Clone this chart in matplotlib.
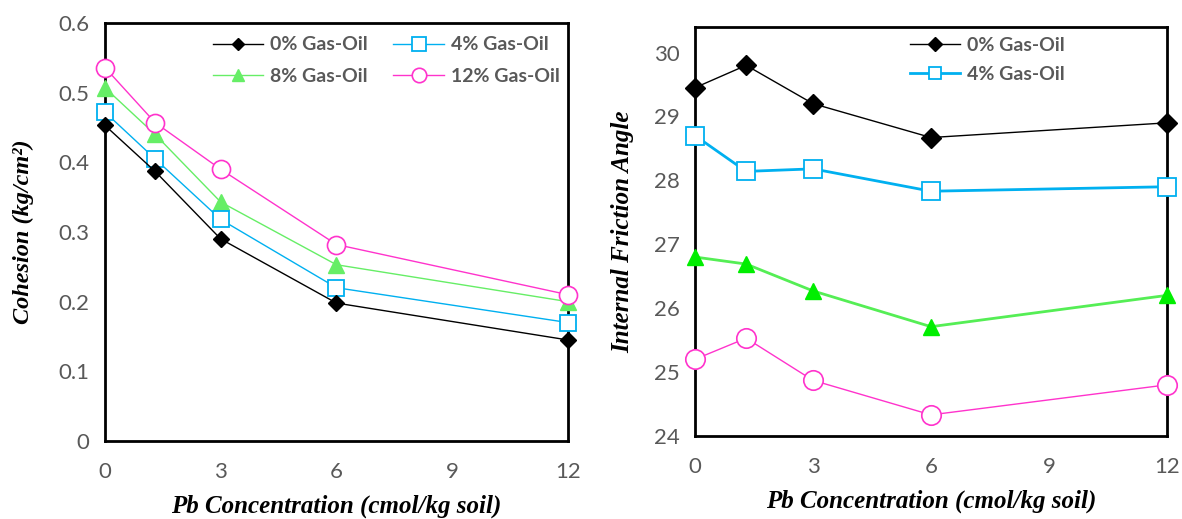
import matplotlib
matplotlib.use("Agg")
import matplotlib.pyplot as plt

# Pb concentration (cmol/kg soil)
pb = [0, 1.3, 3, 6, 12]

# cohesion (kg/cm2)
coh_0 = [0.453, 0.387, 0.290, 0.198, 0.145]
coh_4 = [0.472, 0.405, 0.318, 0.220, 0.170]
coh_8 = [0.507, 0.440, 0.343, 0.253, 0.200]
coh_12 = [0.536, 0.457, 0.390, 0.282, 0.210]

# internal friction angle
phi_0 = [29.45, 29.80, 29.20, 28.67, 28.90]
phi_4 = [28.70, 28.14, 28.18, 27.83, 27.90]
phi_8 = [26.80, 26.69, 26.27, 25.71, 26.20]
phi_12 = [25.20, 25.53, 24.87, 24.33, 24.80]

labels = ["0% Gas-Oil", "4% Gas-Oil", "8% Gas-Oil", "12% Gas-Oil"]
x_ticks = [0, 3, 6, 9, 12]

tick_font = "Lato"
label_font = "Liberation Serif"
gray = "#595959"
blue = "#00b0f0"
pink = "#ff33cc"

fig = plt.figure(figsize=(11.82, 5.19), dpi=100)
ax1 = fig.add_axes([0.0888, 0.1503, 0.3917, 0.8054])
ax2 = fig.add_axes([0.588, 0.160, 0.3993, 0.788])


def style_axis(ax):
    for s in ax.spines.values():
        s.set_linewidth(2)
        s.set_color("black")
    ax.tick_params(length=0, labelsize=16, labelcolor=gray, pad=11)
    ax.tick_params(axis="x", pad=15)
    for t in ax.get_xticklabels() + ax.get_yticklabels():
        t.set_fontfamily(tick_font)
    ax.set_xlim(0, 12)
    ax.set_xticks(x_ticks)
    ax.set_xticklabels([str(v) for v in x_ticks], fontfamily=tick_font)


leg_kw = dict(frameon=False, loc="upper left", labelcolor=gray,
              prop={"family": tick_font, "weight": "bold", "size": 14},
              handlelength=2.6, handletextpad=0.35, borderaxespad=0, borderpad=0)

# left panel: cohesion
h0, = ax1.plot(pb, coh_0, color="black", lw=1, marker="D", ms=8, mfc="black", mec="black",
               label=labels[0], clip_on=False, zorder=5)
h4, = ax1.plot(pb, coh_4, color=blue, lw=1, marker="s", ms=12, mfc="white", mec=blue, mew=1.3,
               label=labels[1], clip_on=False, zorder=4)
h8, = ax1.plot(pb, coh_8, color="#66ee66", lw=1, marker="^", ms=11, mfc="#66ee66", mec="#66ee66",
               label=labels[2], clip_on=False, zorder=3)
h12, = ax1.plot(pb, coh_12, color=pink, lw=1, marker="o", ms=13, mfc="white", mec=pink, mew=1.2,
                label=labels[3], clip_on=False, zorder=6)
ax1.set_ylim(0, 0.6)
ax1.set_yticks([0, 0.1, 0.2, 0.3, 0.4, 0.5, 0.6])
ax1.set_yticklabels(["0", "0.1", "0.2", "0.3", "0.4", "0.5", "0.6"])
style_axis(ax1)
ax1.set_ylabel("Cohesion (kg/cm²)", fontfamily=label_font, fontweight="bold",
               fontstyle="italic", fontsize=17.5, labelpad=18)
ax1.set_xlabel("Pb Concentration (cmol/kg soil)", fontfamily=label_font, fontweight="bold",
               fontstyle="italic", fontsize=18, labelpad=9)
ax1.legend([h0, h8, h4, h12], [labels[0], labels[2], labels[1], labels[3]],
           ncol=2, bbox_to_anchor=(0.233, 0.968), columnspacing=1.3,
           labelspacing=0.75, markerscale=0.8, **leg_kw)

# right panel: internal friction angle
ax2.plot(pb, phi_0, color="black", lw=1, marker="D", ms=10, mfc="black", mec="black",
         label=labels[0], clip_on=False, zorder=5)
ax2.plot(pb, phi_4, color=blue, lw=2, marker="s", ms=13, mfc="white", mec=blue, mew=1.3,
         label=labels[1], clip_on=False, zorder=4)
ax2.plot(pb, phi_8, color="#55ee55", lw=2, marker="^", ms=12, mfc="#00ee00", mec="#00ee00",
         clip_on=False, zorder=3)
ax2.plot(pb, phi_12, color=pink, lw=1, marker="o", ms=14, mfc="white", mec=pink, mew=1.2,
         clip_on=False, zorder=6)
ax2.set_ylim(24, 30.4)
ax2.set_yticks([24, 25, 26, 27, 28, 29, 30])
style_axis(ax2)
ax2.set_ylabel("Internal Friction Angle", fontfamily=label_font, fontweight="bold",
               fontstyle="italic", fontsize=18, labelpad=14)
ax2.set_xlabel("Pb Concentration (cmol/kg soil)", fontfamily=label_font, fontweight="bold",
               fontstyle="italic", fontsize=18, labelpad=9)
ax2.legend(bbox_to_anchor=(0.455, 0.975), labelspacing=0.6, markerscale=0.7, **leg_kw)

fig.savefig("out.png", dpi=100)
